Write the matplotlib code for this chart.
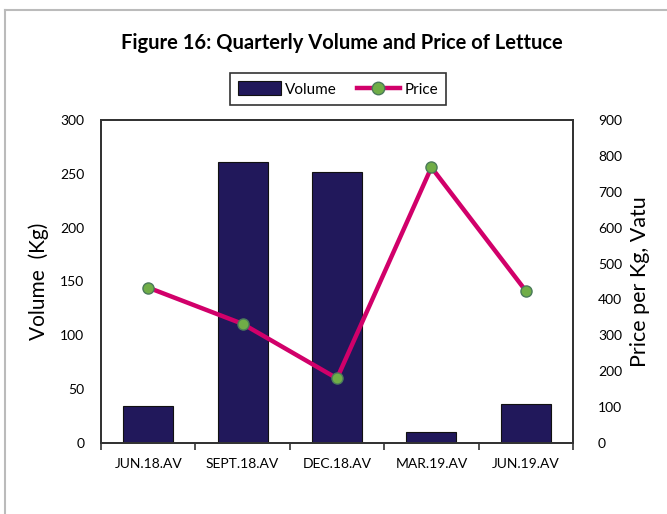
import matplotlib
matplotlib.use("Agg")
import matplotlib.pyplot as plt
from matplotlib.lines import Line2D
from matplotlib.patches import Patch
import numpy as np

categories = ["JUN.18.AV", "SEPT.18.AV", "DEC.18.AV", "MAR.19.AV", "JUN.19.AV"]
volume = [34, 261, 252, 10, 36]
price = [433, 332, 180, 768, 424]
vol_ticks = [0, 50, 100, 150, 200, 250, 300]
price_ticks = [0, 100, 200, 300, 400, 500, 600, 700, 800, 900]

plt.rcParams['font.family'] = ['Lato', 'DejaVu Sans']

fig = plt.figure(figsize=(6.67, 5.14), dpi=100)
W, H = 667, 514
ax = fig.add_axes([101 / W, 1 - 443 / H, (573 - 101) / W, (443 - 120) / H])
x = np.arange(len(categories))

bar_color = '#21185B'
line_color = '#D1006A'
ax.bar(x, volume, width=0.53, color=bar_color, edgecolor='#111111', linewidth=0.8, zorder=2)
ax.set_xlim(-0.5, len(categories) - 0.5)
ax.set_ylim(0, 300)
ax.set_yticks(vol_ticks)
ax.set_xticks(x)
ax.set_xticklabels(categories, fontsize=10)
ax.tick_params(axis='x', length=0, pad=11)
ax.set_xticks(np.arange(-0.5, len(categories), 1), minor=True)
ax.tick_params(axis='x', which='minor', length=5, direction='out', width=1.2, color='#333333')
ax.tick_params(axis='y', length=0, pad=12, labelsize=10)
for s in ax.spines.values():
    s.set_color('#333333')
    s.set_linewidth(1.3)
ax.set_ylabel("Volume  (Kg)", fontsize=15, labelpad=8)

ax2 = ax.twinx()
ax2.plot(x, price, color=line_color, linewidth=3.2, marker='o', markersize=8,
         markerfacecolor='#70AD47', markeredgecolor='#4A7A5A', markeredgewidth=1, zorder=3)
ax2.set_ylim(0, 900)
ax2.set_yticks(price_ticks)
ax2.tick_params(axis='y', length=0, pad=18, labelsize=10)
for s in ax2.spines.values():
    s.set_color('#333333')
    s.set_linewidth(1.3)
ax2.set_ylabel("Price per Kg, Vatu", fontsize=15.5, labelpad=6)

fig.text(342 / W, 1 - 43 / H, "Figure 16: Quarterly Volume and Price of Lettuce",
         ha='center', va='center', fontsize=14.5, fontweight='bold')

handles = [Patch(facecolor=bar_color, edgecolor='#111111', linewidth=0.8),
           Line2D([0], [0], color=line_color, linewidth=3.2, marker='o', markersize=9,
                  markerfacecolor='#70AD47', markeredgecolor='#4A7A5A')]
leg = fig.legend(handles, ["Volume", "Price"], loc='center', bbox_to_anchor=(338 / W, 1 - 89 / H),
                 ncol=2, frameon=True, fancybox=False, edgecolor='black', fontsize=11,
                 handlelength=2.8, handleheight=1.0, handletextpad=0.3, columnspacing=1.3,
                 borderpad=0.55)
leg.get_frame().set_linewidth(1.2)

fig.add_artist(Line2D([5 / W, 1], [1 - 10 / H, 1 - 10 / H], color='#BBBBBB', linewidth=1.5))
fig.add_artist(Line2D([5 / W, 5 / W], [1 - 10 / H, 0], color='#BBBBBB', linewidth=1.5))

fig.savefig("out.png", dpi=100)
